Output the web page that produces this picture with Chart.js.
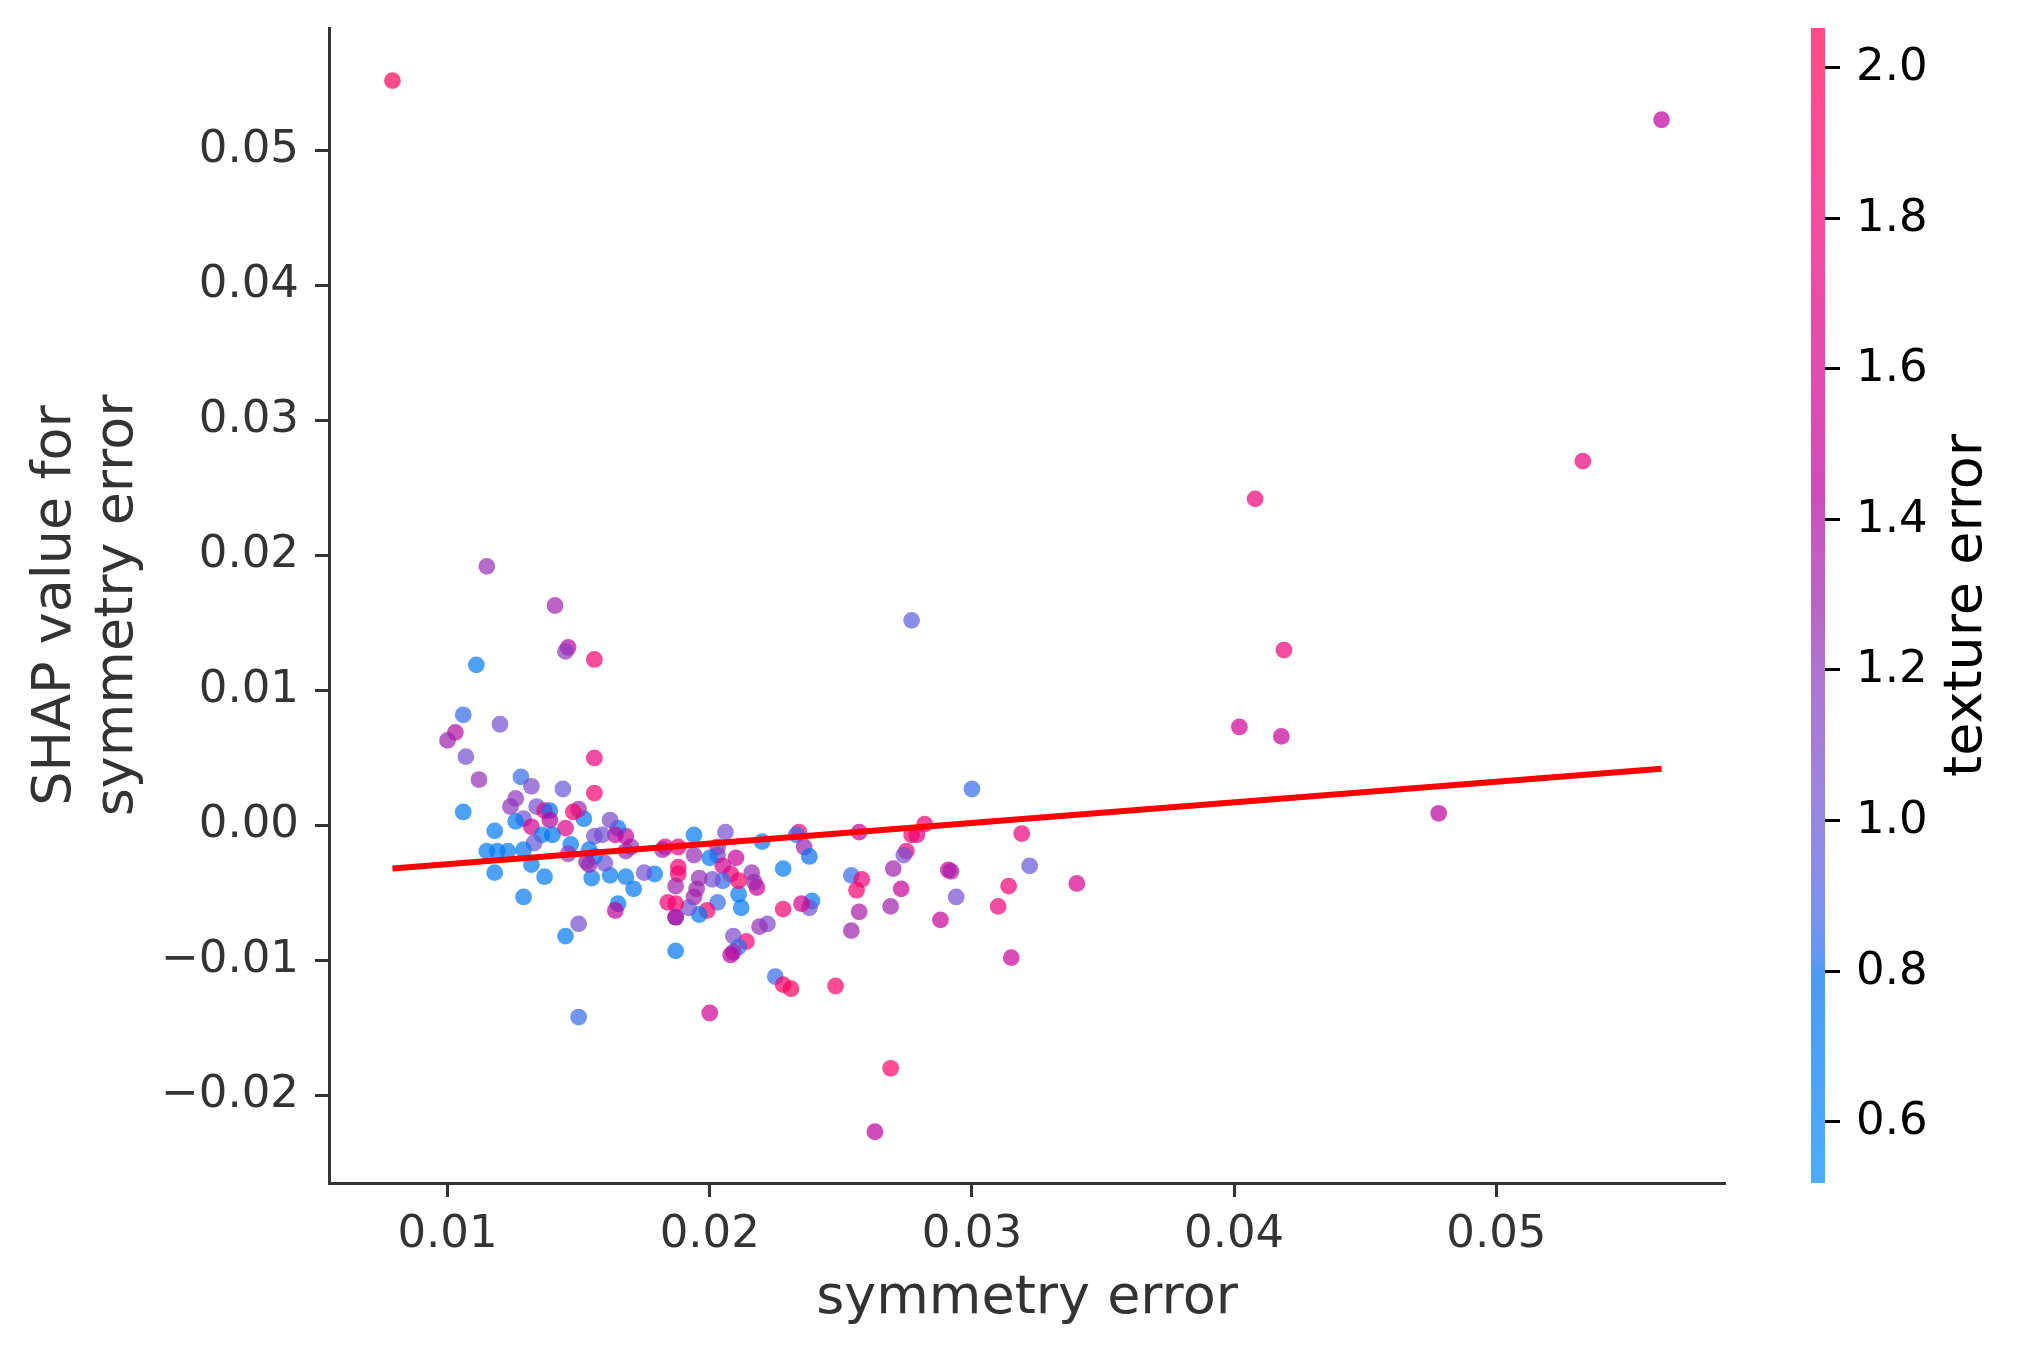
<!DOCTYPE html>
<html>
<head>
<meta charset="utf-8">
<script src="https://cdn.jsdelivr.net/npm/chart.js@4.4.1/dist/chart.umd.min.js"></script>
<style>
html,body{margin:0;padding:0;background:#ffffff;}
#wrap{width:2026px;height:1357px;position:relative;}
</style>
</head>
<body>
<div id="wrap"><canvas id="c"></canvas></div>
<script>
// ---------------- data ----------------
const symmetryError = [
  0.0079, 0.0563, 0.0533, 0.0408, 0.0419, 0.0402, 0.0418, 0.0478, 0.0277, 0.0300,
  0.0322, 0.0340, 0.0319, 0.0314, 0.0310, 0.0315, 0.0288, 0.0294, 0.0291, 0.0292,
  0.0282, 0.0279, 0.0277, 0.0275, 0.0274, 0.0270, 0.0273, 0.0269, 0.0269, 0.0263,
  0.0257, 0.0254, 0.0258, 0.0256, 0.0257, 0.0254, 0.0248, 0.0234, 0.0233, 0.0236,
  0.0238, 0.0239, 0.0238, 0.0235, 0.0228, 0.0228, 0.0225, 0.0228, 0.0231, 0.0220,
  0.0222, 0.0219, 0.0214, 0.0218, 0.0217, 0.0216, 0.0212, 0.0211, 0.0211, 0.0208,
  0.0210, 0.0209, 0.0211, 0.0209, 0.0208, 0.0200, 0.0206, 0.0203, 0.0203, 0.0205,
  0.0205, 0.0203, 0.0201, 0.0200, 0.0199, 0.0196, 0.0196, 0.0194, 0.0194, 0.0195,
  0.0194, 0.0192, 0.0188, 0.0183, 0.0182, 0.0188, 0.0188, 0.0187, 0.0187, 0.0184,
  0.0187, 0.0187, 0.0187, 0.0179, 0.0175, 0.0171, 0.0170, 0.0168, 0.0168, 0.0168,
  0.0165, 0.0164, 0.0165, 0.0164, 0.0162, 0.0162, 0.0160, 0.0159, 0.0156, 0.0155,
  0.0154, 0.0156, 0.0153, 0.0154, 0.0156, 0.0156, 0.0156, 0.0152, 0.0150, 0.0148,
  0.0150, 0.0150, 0.0146, 0.0145, 0.0141, 0.0115, 0.0111, 0.0106, 0.0120, 0.0103,
  0.0100, 0.0107, 0.0112, 0.0106, 0.0128, 0.0132, 0.0144, 0.0126, 0.0124, 0.0134,
  0.0137, 0.0139, 0.0139, 0.0129, 0.0126, 0.0132, 0.0145, 0.0118, 0.0136, 0.0140,
  0.0147, 0.0133, 0.0129, 0.0123, 0.0115, 0.0119, 0.0146, 0.0118, 0.0132, 0.0137,
  0.0129, 0.0145
];
const shapValue = [
  0.0552, 0.0523, 0.0270, 0.0242, 0.0130, 0.0073, 0.0066, 0.0009, 0.0152, 0.0027,
  -0.0030, -0.0043, -0.0006, -0.0045, -0.0060, -0.0098, -0.0070, -0.0053, -0.0033, -0.0034,
  0.0001, -0.0007, -0.0007, -0.0019, -0.0022, -0.0032, -0.0047, -0.0060, -0.0180, -0.0227,
  -0.0005, -0.0037, -0.0040, -0.0048, -0.0064, -0.0078, -0.0119, -0.0005, -0.0007, -0.0016,
  -0.0023, -0.0056, -0.0061, -0.0058, -0.0032, -0.0062, -0.0112, -0.0118, -0.0121, -0.0012,
  -0.0073, -0.0075, -0.0086, -0.0046, -0.0042, -0.0035, -0.0061, -0.0051, -0.0041, -0.0036,
  -0.0024, -0.0082, -0.0090, -0.0094, -0.0096, -0.0139, -0.0005, -0.0016, -0.0022, -0.0030,
  -0.0041, -0.0057, -0.0040, -0.0024, -0.0063, -0.0066, -0.0039, -0.0007, -0.0022, -0.0047,
  -0.0053, -0.0061, -0.0016, -0.0016, -0.0018, -0.0031, -0.0036, -0.0045, -0.0058, -0.0057,
  -0.0068, -0.0068, -0.0093, -0.0036, -0.0035, -0.0047, -0.0016, -0.0019, -0.0038, -0.0008,
  -0.0002, -0.0007, -0.0058, -0.0063, 0.0004, -0.0037, -0.0028, -0.0007, -0.0008, -0.0039,
  -0.0018, -0.0023, -0.0027, -0.0029, 0.0050, 0.0024, 0.0123, 0.0005, 0.0012, 0.0010,
  -0.0073, -0.0142, 0.0132, 0.0129, 0.0163, 0.0192, 0.0119, 0.0082, 0.0075, 0.0069,
  0.0063, 0.0051, 0.0034, 0.0010, 0.0036, 0.0029, 0.0027, 0.0020, 0.0014, 0.0014,
  0.0011, 0.0011, 0.0004, 0.0005, 0.0003, -0.0001, -0.0002, -0.0004, -0.0007, -0.0007,
  -0.0014, -0.0013, -0.0018, -0.0019, -0.0019, -0.0019, -0.0021, -0.0035, -0.0029, -0.0038,
  -0.0053, -0.0082
];
const textureError = [
  2.00, 1.45, 1.75, 1.75, 1.80, 1.55, 1.50, 1.45, 0.95, 0.85,
  1.00, 1.60, 1.75, 1.80, 1.75, 1.50, 1.50, 1.05, 1.50, 1.35,
  1.80, 1.65, 1.90, 1.75, 1.05, 1.30, 1.50, 1.30, 1.90, 1.45,
  1.50, 0.85, 1.80, 1.85, 1.35, 1.30, 1.90, 1.85, 0.85, 1.30,
  0.80, 0.70, 1.05, 1.60, 0.70, 1.85, 0.85, 1.90, 1.95, 0.70,
  1.10, 1.25, 1.85, 1.50, 1.30, 1.25, 0.70, 0.70, 1.90, 1.80,
  1.50, 1.10, 0.85, 1.25, 1.45, 1.55, 1.05, 1.25, 1.10, 1.60,
  0.85, 0.85, 1.05, 0.70, 1.90, 0.70, 1.25, 0.70, 1.25, 1.30,
  1.30, 1.05, 1.75, 1.80, 1.30, 1.85, 1.85, 1.30, 1.90, 1.80,
  0.85, 1.50, 0.75, 0.70, 1.05, 0.70, 1.20, 1.25, 0.70, 1.50,
  0.75, 1.50, 0.75, 1.45, 1.10, 0.70, 1.05, 1.05, 1.05, 0.70,
  0.70, 0.70, 1.30, 1.25, 1.75, 1.85, 1.85, 0.70, 1.25, 1.85,
  1.05, 0.85, 1.40, 1.20, 1.30, 1.25, 0.70, 0.85, 1.05, 1.40,
  1.30, 1.05, 1.25, 0.70, 0.85, 1.10, 1.00, 1.20, 1.20, 1.05,
  1.70, 0.80, 1.45, 1.05, 0.70, 1.60, 1.65, 0.70, 0.70, 0.75,
  0.70, 1.00, 0.70, 0.70, 0.70, 0.70, 1.20, 0.70, 0.70, 0.70,
  0.70, 0.70
];
// fitted trend line end points (as seen in the reference)
const trendX = [0.0079, 0.0563];
const trendY = [-0.0032, 0.0042];

// axis ticks / labels
const xTicks = [0.01, 0.02, 0.03, 0.04, 0.05];
const xTickLabels = ['0.01', '0.02', '0.03', '0.04', '0.05'];
const yTicks = [-0.02, -0.01, 0.00, 0.01, 0.02, 0.03, 0.04, 0.05];
const yTickLabels = ['\u22120.02', '\u22120.01', '0.00', '0.01', '0.02', '0.03', '0.04', '0.05'];
const cbTicks = [0.6, 0.8, 1.0, 1.2, 1.4, 1.6, 1.8, 2.0];
const cbTickLabels = ['0.6', '0.8', '1.0', '1.2', '1.4', '1.6', '1.8', '2.0'];
const xRange = [0.00548, 0.05872];
const yRange = [-0.0265, 0.0591];
const cRange = [0.518, 2.052];

const xTitle = 'symmetry error';
const yTitle = ['SHAP value for', 'symmetry error'];
const cbTitle = 'texture error';

// ---------------- colour map (SHAP red_blue, built in LCh space) ----------------
function lch2rgb(L, C, H) {
  const a = C * Math.cos(H), b = C * Math.sin(H);
  const fy = (L + 16) / 116, fx = fy + a / 500, fz = fy - b / 200;
  const d = 6 / 29;
  const finv = t => t > d ? t * t * t : 3 * d * d * (t - 4 / 29);
  const X = 0.95047 * finv(fx), Y = finv(fy), Z = 1.08883 * finv(fz);
  const r = 3.2404542 * X - 1.5371385 * Y - 0.4985314 * Z;
  const g = -0.9692660 * X + 1.8760108 * Y + 0.0415560 * Z;
  const bl = 0.0556434 * X - 0.2040259 * Y + 1.0572252 * Z;
  const gam = v => {
    v = v <= 0.0031308 ? 12.92 * v : 1.055 * Math.pow(v, 1 / 2.4) - 0.055;
    return Math.min(1, Math.max(0, v)) * 255;
  };
  return [gam(r), gam(g), gam(bl)];
}
const NSTEPS = 100;
const LUT = [];
for (let i = 0; i < NSTEPS; i++) {
  const L = i < 50 ? 54 + (40 - 54) * i / 49 : 40 + (54 - 40) * (i - 50) / 49;
  const C = 70 + (90 - 70) * i / (NSTEPS - 1);
  const H = 4.6588 + (0.35470565 + 2 * Math.PI - 4.6588) * i / (NSTEPS - 1);
  LUT.push(lch2rgb(L, C, H));
}
function cmap(t, alpha) {
  t = Math.min(1, Math.max(0, t));
  const f = t * (NSTEPS - 1);
  const i = Math.min(NSTEPS - 2, Math.floor(f));
  const u = f - i;
  const c = [0, 1, 2].map(k => Math.round(LUT[i][k] * (1 - u) + LUT[i + 1][k] * u));
  return `rgba(${c[0]},${c[1]},${c[2]},${alpha})`;
}
const norm = v => (v - cRange[0]) / (cRange[1] - cRange[0]);
const ALPHA = 0.7;

// ---------------- chart ----------------
const AXIS = '#333333';
const TICK_FONT = {family: 'DejaVu Sans', size: 45};
const TITLE_FONT = {family: 'DejaVu Sans', size: 54};
const YTITLE_FONT = {family: 'DejaVu Sans', size: 54, lineHeight: 1.15};

const colorbarPlugin = {
  id: 'colorbar',
  afterDraw(chart) {
    const s = chart.scales.cb;
    const ctx = chart.ctx;
    const x0 = chart.chartArea.right + 86, w = 14;
    ctx.save();
    for (let py = Math.round(s.top); py < Math.round(s.bottom); py++) {
      const v = s.getValueForPixel(py + 0.5);
      ctx.fillStyle = cmap(norm(v), ALPHA);
      ctx.fillRect(x0, py, w, 1);
    }
    ctx.strokeStyle = '#000000';
    ctx.lineWidth = 3;
    ctx.fillStyle = '#000000';
    ctx.font = `${TICK_FONT.size}px "DejaVu Sans"`;
    ctx.textAlign = 'left';
    ctx.textBaseline = 'middle';
    cbTicks.forEach((v, i) => {
      const y = Math.round(s.getPixelForValue(v)) + 0.5;
      ctx.beginPath();
      ctx.moveTo(x0 + w, y);
      ctx.lineTo(x0 + w + 15, y);
      ctx.stroke();
      ctx.fillText(cbTickLabels[i], x0 + w + 31, y + 1);
    });
    ctx.font = `${TITLE_FONT.size}px "DejaVu Sans"`;
    ctx.translate(x0 + 156, (s.top + s.bottom) / 2);
    ctx.rotate(-Math.PI / 2);
    ctx.textAlign = 'center';
    ctx.textBaseline = 'middle';
    ctx.fillText(cbTitle, 0, 0);
    ctx.restore();
  }
};

Chart.defaults.font.family = 'DejaVu Sans';

new Chart(document.getElementById('c'), {
  type: 'scatter',
  data: {
    datasets: [
      {
        type: 'line',
        data: trendX.map((x, i) => ({x: x, y: trendY[i]})),
        borderColor: '#ff0000',
        borderWidth: 6,
        pointRadius: 0,
        fill: false,
        order: 0
      },
      {
        data: symmetryError.map((x, i) => ({x: x, y: shapValue[i]})),
        backgroundColor: textureError.map(v => cmap(norm(v), ALPHA)),
        borderWidth: 0,
        pointRadius: 8.4,
        pointHoverRadius: 8.4,
        order: 1
      }
    ]
  },
  options: {
    responsive: true,
    maintainAspectRatio: false,
    animation: false,
    devicePixelRatio: 1,
    layout: {autoPadding: false, padding: {left: 0, right: 301, top: 28, bottom: 0}},
    plugins: {legend: {display: false}, tooltip: {enabled: false}},
    events: [],
    scales: {
      x: {
        type: 'linear',
        position: 'bottom',
        min: xRange[0],
        max: xRange[1],
        afterBuildTicks: s => { s.ticks = xTicks.map(v => ({value: v})); },
        afterFit: s => { s.height = 174; s.paddingLeft = 0; s.paddingRight = 0; },
        ticks: {
          font: TICK_FONT, color: AXIS, padding: 11, maxRotation: 0, autoSkip: false,
          callback: v => xTickLabels[xTicks.indexOf(v)]
        },
        grid: {display: true, drawOnChartArea: false, drawTicks: true, tickLength: 14, tickWidth: 3, tickColor: AXIS},
        border: {display: true, color: AXIS, width: 3},
        title: {display: true, text: xTitle, font: TITLE_FONT, color: AXIS, padding: {top: 0, bottom: 26}}
      },
      y: {
        type: 'linear',
        position: 'left',
        min: yRange[0],
        max: yRange[1],
        afterBuildTicks: s => { s.ticks = yTicks.map(v => ({value: v})); },
        afterFit: s => { s.width = 329; s.paddingTop = 0; s.paddingBottom = 0; },
        ticks: {
          font: TICK_FONT, color: AXIS, padding: 16, autoSkip: false,
          callback: v => yTickLabels[yTicks.indexOf(v)]
        },
        grid: {display: true, drawOnChartArea: false, drawTicks: true, tickLength: 14, tickWidth: 3, tickColor: AXIS},
        border: {display: true, color: AXIS, width: 3},
        title: {display: true, text: yTitle, font: YTITLE_FONT, color: AXIS, padding: {top: 25, bottom: 0}}
      },
      cb: {
        type: 'linear',
        position: 'right',
        display: false,
        min: cRange[0],
        max: cRange[1]
      }
    }
  },
  plugins: [colorbarPlugin]
});
</script>
</body>
</html>
